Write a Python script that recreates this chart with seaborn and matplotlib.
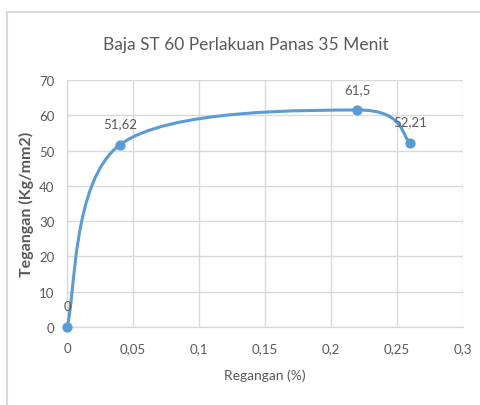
import matplotlib
matplotlib.use("Agg")
import matplotlib.pyplot as plt
from matplotlib.path import Path
from matplotlib.patches import PathPatch
from matplotlib.lines import Line2D
import numpy as np
import pandas as pd
import seaborn as sns

# Stress-strain readings
regangan = [0.0, 0.04, 0.22, 0.26]
tegangan = [0.0, 51.62, 61.5, 52.21]
label_nilai = ["0", "51,62", "61,5", "52,21"]

x_ticks = [0, 0.05, 0.1, 0.15, 0.2, 0.25, 0.3]
x_tick_labels = ["0", "0,05", "0,1", "0,15", "0,2", "0,25", "0,3"]
y_ticks = [0, 10, 20, 30, 40, 50, 60, 70]

judul = "Baja ST 60 Perlakuan Panas 35 Menit"
label_x = "Regangan (%)"
label_y = "Tegangan (Kg/mm2)"

BIRU = "#5B9BD5"
ABU_TEKS = "#595959"
ABU_GRID = "#D9D9D9"

sns.set_theme(style="white")
plt.rcParams["font.family"] = ["Lato", "DejaVu Sans"]

df = pd.DataFrame({"regangan": regangan, "tegangan": tegangan})

fig = plt.figure(figsize=(4.8, 4.06), dpi=100)
ax = fig.add_axes([67 / 480, 1 - 328 / 406, (463 - 67) / 480, (328 - 81) / 406])

ax.set_xlim(0, 0.3)
ax.set_ylim(0, 70)
ax.set_xticks(x_ticks)
ax.set_xticklabels(x_tick_labels)
ax.set_yticks(y_ticks)
ax.grid(True, color=ABU_GRID, linewidth=1)
ax.set_axisbelow(True)
for side in ["top", "right"]:
    ax.spines[side].set_visible(False)
for side in ["left", "bottom"]:
    ax.spines[side].set_color(ABU_GRID)
    ax.spines[side].set_linewidth(1)
ax.tick_params(axis="both", length=0, labelsize=9.5, labelcolor=ABU_TEKS)
ax.tick_params(axis="x", pad=11)
ax.tick_params(axis="y", pad=9)

# Smoothed line: cubic Bezier segments with Catmull-Rom control points
pts = np.column_stack([regangan, tegangan])
n = len(pts)
verts = [tuple(pts[0])]
codes = [Path.MOVETO]
for i in range(n - 1):
    p_prev = pts[i - 1] if i > 0 else pts[i]
    p_next2 = pts[i + 2] if i + 2 < n else pts[i + 1]
    c1 = pts[i] + (pts[i + 1] - p_prev) / 6.0
    c2 = pts[i + 1] - (p_next2 - pts[i]) / 6.0
    verts += [tuple(c1), tuple(c2), tuple(pts[i + 1])]
    codes += [Path.CURVE4] * 3
ax.add_patch(PathPatch(Path(verts, codes), facecolor="none", edgecolor=BIRU,
                       linewidth=2.2, capstyle="round", joinstyle="round",
                       zorder=3, clip_on=False))

sns.scatterplot(data=df, x="regangan", y="tegangan", ax=ax, color=BIRU,
                s=55, edgecolor=BIRU, linewidth=0, zorder=4, clip_on=False)

for xv, yv, teks in zip(regangan, tegangan, label_nilai):
    ax.annotate(teks, (xv, yv), xytext=(0, 11), textcoords="offset points",
                ha="center", va="bottom", fontsize=9.5, color=ABU_TEKS,
                annotation_clip=False)

ax.set_xlabel(label_x, fontsize=10, color=ABU_TEKS, labelpad=10)
ax.set_ylabel(label_y, fontsize=11.5, color=ABU_TEKS, fontweight="bold", labelpad=4)

fig.text(246 / 480, 1 - 45 / 406, judul, ha="center", va="center",
         fontsize=12.5, color=ABU_TEKS)

# Chart area frame (top and left edges)
fig.add_artist(Line2D([6.5 / 480, 1.0], [1 - 13 / 406, 1 - 13 / 406],
                      transform=fig.transFigure, color="#D9D9D9", linewidth=1.5))
fig.add_artist(Line2D([6.5 / 480, 6.5 / 480], [1 - 13 / 406, 0.0],
                      transform=fig.transFigure, color="#D9D9D9", linewidth=1.5))

fig.savefig("out.png", dpi=100, facecolor="white")
